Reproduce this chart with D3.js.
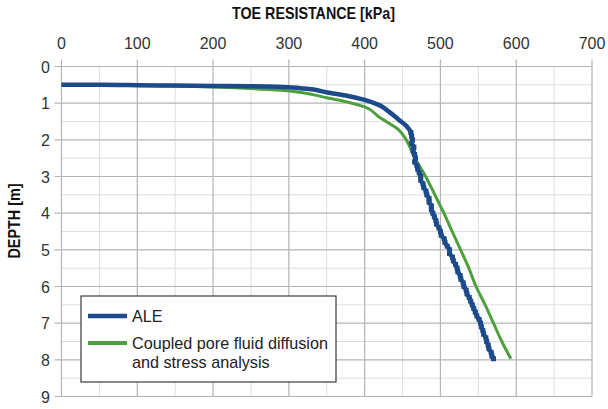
<!DOCTYPE html>
<html><head><meta charset="utf-8">
<script src="https://cdn.jsdelivr.net/npm/d3@7"></script>
<style>
html,body{margin:0;padding:0;background:#fff;}
svg{display:block;}
</style></head>
<body>
<svg id="c" width="608" height="409"></svg>
<script>
// ---- data ----
const xTicks = [0,100,200,300,400,500,600,700];
const yTicks = [0,1,2,3,4,5,6,7,8,9];
const seriesNames = ["ALE", "Coupled pore fluid diffusion|and stress analysis"];
// ALE: [toe resistance kPa, depth m]
const aleRes   = [0,50,100,150,200,250,290,320,351,375,400,420,432,445,455,461,462,463,462,465,464,466,467,466,469,470,472,474,474,477,478,481,482,485,485,488,488,490,492,494,495,498,500,501,505,506,509,512,512,516,517,520,522,523,526,527,530,531,534,535,538,540,542,544,546,548,551,553,554,556,557,560,561,563,564,567,568,570];
const aleDepth = [0.50,0.50,0.51,0.52,0.53,0.54,0.56,0.60,0.71,0.79,0.91,1.06,1.23,1.45,1.62,1.8,1.9,2.0,2.1,2.2,2.3,2.4,2.5,2.6,2.7,2.8,2.9,3.0,3.1,3.2,3.3,3.4,3.5,3.6,3.7,3.8,3.9,4.0,4.1,4.2,4.3,4.4,4.5,4.6,4.7,4.8,4.9,5.0,5.1,5.2,5.3,5.4,5.5,5.6,5.7,5.8,5.9,6.0,6.1,6.2,6.3,6.4,6.5,6.6,6.7,6.8,6.9,7.0,7.1,7.2,7.3,7.4,7.5,7.6,7.7,7.8,7.9,7.97];
// Coupled analysis
const cplRes   = [0,100,200,250,290,350,400,419,445,455,465,480.5,492.7,504.6,515.5,526.6,537.5,547,559,570,581,593];
const cplDepth = [0.50,0.52,0.56,0.60,0.65,0.85,1.10,1.38,1.73,2.0,2.45,3.0,3.5,4.0,4.5,5.0,5.5,6.0,6.5,7.0,7.5,7.97];

const colors = ["#1d4a8b", "#4c9f3c"];

const svg = d3.select("#c");
const x = d3.scaleLinear().domain([0,700]).range([61.5,592]);
const y = d3.scaleLinear().domain([0,9]).range([66.5,396.5]);

const font = "'Liberation Sans', Arial, sans-serif";

// minor grid
const g = svg.append("g");
g.selectAll(".mx").data(d3.range(50,700,100)).join("line")
  .attr("x1",d=>x(d)).attr("x2",d=>x(d)).attr("y1",y(0)).attr("y2",y(9))
  .attr("stroke","#dedede").attr("stroke-width",1);
g.selectAll(".my").data(d3.range(0.5,9,1)).join("line")
  .attr("y1",d=>y(d)).attr("y2",d=>y(d)).attr("x1",x(0)).attr("x2",x(700))
  .attr("stroke","#dedede").attr("stroke-width",1);
// major grid
g.selectAll(".Mx").data(xTicks).join("line")
  .attr("x1",d=>x(d)).attr("x2",d=>x(d)).attr("y1",y(0)-7).attr("y2",y(9))
  .attr("stroke","#b4b4b4").attr("stroke-width",1.2);
g.selectAll(".My").data(yTicks).join("line")
  .attr("y1",d=>y(d)).attr("y2",d=>y(d)).attr("x1",x(0)-7).attr("x2",x(700))
  .attr("stroke","#b4b4b4").attr("stroke-width",1.2);

// tick labels
svg.append("g").selectAll("text").data(xTicks).join("text")
  .attr("x",d=>x(d)).attr("y",49).attr("text-anchor","middle")
  .attr("font-family",font).attr("font-size",16).attr("fill","#333")
  .text(d=>d);
svg.append("g").selectAll("text").data(yTicks).join("text")
  .attr("x",50).attr("y",d=>y(d)+6).attr("text-anchor","end")
  .attr("font-family",font).attr("font-size",16).attr("fill","#333")
  .text(d=>d);

// axis titles (condensed bold)
svg.append("text").attr("x",313.5).attr("y",18.5).attr("text-anchor","middle")
  .attr("font-family",font).attr("font-weight","bold").attr("font-size",17).attr("fill","#111")
  .attr("textLength",163).attr("lengthAdjust","spacingAndGlyphs")
  .text("TOE RESISTANCE [kPa]");
svg.append("text").attr("transform","translate(20,221) rotate(-90)").attr("text-anchor","middle")
  .attr("font-family",font).attr("font-weight","bold").attr("font-size",17).attr("fill","#111")
  .attr("textLength",75).attr("lengthAdjust","spacingAndGlyphs")
  .text("DEPTH [m]");

// lines
const cpl = cplRes.map((v,i)=>[v,cplDepth[i]]);
const ale = aleRes.map((v,i)=>[v,aleDepth[i]]);
svg.append("path").datum(cpl).attr("d",d3.line().x(d=>x(d[0])).y(d=>y(d[1])).curve(d3.curveMonotoneY))
  .attr("fill","none").attr("stroke",colors[1]).attr("stroke-width",3);
svg.append("path").datum(ale).attr("d",d3.line().x(d=>x(d[0])).y(d=>y(d[1])).curve(d3.curveMonotoneY))
  .attr("fill","none").attr("stroke",colors[0]).attr("stroke-width",4.5).attr("stroke-linejoin","round");
svg.append("g").selectAll("rect").data(ale.filter(d=>d[1]>=1.7)).join("rect")
  .attr("x",d=>x(d[0])-2.5).attr("y",d=>y(d[1])-2.5).attr("width",5).attr("height",5)
  .attr("fill",colors[0]);

// legend
const lg = svg.append("g");
lg.append("rect").attr("x",81).attr("y",296).attr("width",255).attr("height",86)
  .attr("fill","#fff").attr("stroke","#3a3a3a").attr("stroke-width",1.2);
const ly = [316,343];
seriesNames.forEach((n,i)=>{
  lg.append("line").attr("x1",88).attr("x2",127).attr("y1",ly[i]).attr("y2",ly[i])
    .attr("stroke",colors[i]).attr("stroke-width",i===0?4.5:4);
  const t = lg.append("text").attr("x",132).attr("y",ly[i]+6)
    .attr("font-family",font).attr("font-size",16.2).attr("fill","#222");
  n.split("|").forEach((s,k)=>{
    t.append("tspan").attr("x",132).attr("dy",k===0?0:18.5).text(s);
  });
});
</script>
</body></html>
